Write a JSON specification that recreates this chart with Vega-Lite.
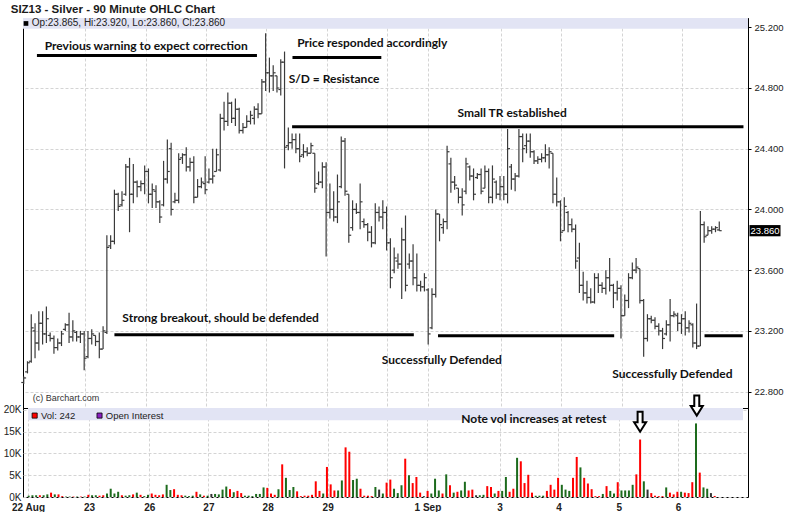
{
"$schema": "https://vega.github.io/schema/vega-lite/v6.json",
"background": "white",
"padding": {"left": 2, "top": 3, "right": 0, "bottom": 0},
"title": {"text": "SIZ13 - Silver - 90 Minute OHLC Chart", "anchor": "start", "font": "Liberation Sans", "fontSize": 11.5, "fontWeight": "bold", "color": "#1a1a1a", "offset": 2.5, "dx": 8},
"spacing": 0,
"bounds": "flush",
"resolve": {"scale": {"x": "independent", "y": "independent", "color": "independent"}},
"datasets": {"one": [{}], "bars": [
{"i":0,"o":22.86,"h":22.9,"l":22.85,"c":22.89,"v":300,"d":"up"},
{"i":1,"o":22.93,"h":23.0,"l":22.92,"c":22.99,"v":400,"d":"up"},
{"i":2,"o":23.0,"h":23.31,"l":22.99,"c":23.22,"v":400,"d":"up"},
{"i":3,"o":23.2,"h":23.25,"l":23.02,"c":23.12,"v":400,"d":"dn"},
{"i":4,"o":23.12,"h":23.33,"l":23.07,"c":23.25,"v":400,"d":"up"},
{"i":5,"o":23.25,"h":23.33,"l":23.11,"c":23.18,"v":600,"d":"up"},
{"i":6,"o":23.18,"h":23.36,"l":23.12,"c":23.28,"v":1000,"d":"dn"},
{"i":7,"o":23.17,"h":23.19,"l":23.13,"c":23.15,"v":600,"d":"up"},
{"i":8,"o":23.15,"h":23.17,"l":23.05,"c":23.09,"v":600,"d":"dn"},
{"i":9,"o":23.09,"h":23.15,"l":23.07,"c":23.12,"v":200,"d":"dn"},
{"i":10,"o":23.12,"h":23.2,"l":23.1,"c":23.18,"v":100,"d":"up"},
{"i":11,"o":23.21,"h":23.25,"l":23.2,"c":23.24,"v":100,"d":"up"},
{"i":12,"o":23.24,"h":23.32,"l":23.12,"c":23.16,"v":100,"d":"dn"},
{"i":13,"o":23.16,"h":23.27,"l":23.13,"c":23.2,"v":100,"d":"up"},
{"i":14,"o":23.19,"h":23.2,"l":23.13,"c":23.16,"v":100,"d":"dn"},
{"i":15,"o":23.16,"h":23.2,"l":23.12,"c":23.18,"v":100,"d":"up"},
{"i":16,"o":23.18,"h":23.2,"l":22.94,"c":23.02,"v":500,"d":"dn"},
{"i":17,"o":23.03,"h":23.2,"l":23.02,"c":23.15,"v":400,"d":"up"},
{"i":18,"o":23.15,"h":23.21,"l":23.11,"c":23.18,"v":400,"d":"up"},
{"i":19,"o":23.17,"h":23.17,"l":23.1,"c":23.13,"v":300,"d":"dn"},
{"i":20,"o":23.13,"h":23.19,"l":23.02,"c":23.08,"v":400,"d":"dn"},
{"i":21,"o":23.08,"h":23.23,"l":23.08,"c":23.2,"v":800,"d":"up"},
{"i":22,"o":23.19,"h":23.83,"l":23.18,"c":23.75,"v":1900,"d":"up"},
{"i":23,"o":23.76,"h":23.83,"l":23.74,"c":23.79,"v":800,"d":"up"},
{"i":24,"o":23.79,"h":24.13,"l":23.77,"c":24.1,"v":1200,"d":"up"},
{"i":25,"o":24.1,"h":24.11,"l":23.99,"c":24.02,"v":400,"d":"dn"},
{"i":26,"o":24.03,"h":24.12,"l":24.02,"c":24.06,"v":300,"d":"up"},
{"i":27,"o":24.1,"h":24.3,"l":24.09,"c":24.28,"v":400,"d":"up"},
{"i":28,"o":24.28,"h":24.34,"l":23.85,"c":24.1,"v":600,"d":"dn"},
{"i":29,"o":24.1,"h":24.3,"l":24.04,"c":24.18,"v":1000,"d":"up"},
{"i":30,"o":24.18,"h":24.19,"l":24.08,"c":24.15,"v":500,"d":"dn"},
{"i":31,"o":24.15,"h":24.19,"l":24.12,"c":24.17,"v":200,"d":"up"},
{"i":32,"o":24.17,"h":24.29,"l":24.1,"c":24.25,"v":500,"d":"up"},
{"i":33,"o":24.25,"h":24.27,"l":24.04,"c":24.1,"v":800,"d":"dn"},
{"i":34,"o":24.1,"h":24.17,"l":24.01,"c":24.13,"v":500,"d":"dn"},
{"i":35,"o":24.12,"h":24.16,"l":24.01,"c":24.05,"v":400,"d":"dn"},
{"i":36,"o":24.05,"h":24.06,"l":23.91,"c":23.95,"v":600,"d":"dn"},
{"i":37,"o":24.03,"h":24.32,"l":24.02,"c":24.2,"v":2800,"d":"up"},
{"i":38,"o":24.2,"h":24.46,"l":24.17,"c":24.25,"v":1600,"d":"up"},
{"i":39,"o":24.4,"h":24.44,"l":23.96,"c":24.0,"v":1800,"d":"dn"},
{"i":40,"o":24.05,"h":24.11,"l":24.04,"c":24.06,"v":500,"d":"dn"},
{"i":41,"o":24.06,"h":24.37,"l":24.04,"c":24.33,"v":400,"d":"dn"},
{"i":42,"o":24.34,"h":24.37,"l":24.3,"c":24.36,"v":300,"d":"up"},
{"i":43,"o":24.36,"h":24.41,"l":24.25,"c":24.28,"v":200,"d":"up"},
{"i":44,"o":24.28,"h":24.34,"l":24.25,"c":24.31,"v":300,"d":"up"},
{"i":45,"o":24.31,"h":24.35,"l":24.04,"c":24.08,"v":1200,"d":"dn"},
{"i":46,"o":24.08,"h":24.2,"l":24.08,"c":24.15,"v":600,"d":"up"},
{"i":47,"o":24.15,"h":24.21,"l":24.14,"c":24.18,"v":300,"d":"dn"},
{"i":48,"o":24.17,"h":24.35,"l":24.1,"c":24.13,"v":300,"d":"up"},
{"i":49,"o":24.18,"h":24.27,"l":24.17,"c":24.2,"v":700,"d":"fl"},
{"i":50,"o":24.2,"h":24.4,"l":24.17,"c":24.22,"v":700,"d":"up"},
{"i":51,"o":24.25,"h":24.4,"l":24.25,"c":24.36,"v":600,"d":"up"},
{"i":52,"o":24.26,"h":24.63,"l":24.25,"c":24.6,"v":1700,"d":"up"},
{"i":53,"o":24.6,"h":24.71,"l":24.52,"c":24.58,"v":2400,"d":"up"},
{"i":54,"o":24.58,"h":24.77,"l":24.55,"c":24.7,"v":1800,"d":"dn"},
{"i":55,"o":24.7,"h":24.71,"l":24.57,"c":24.6,"v":1100,"d":"up"},
{"i":56,"o":24.6,"h":24.73,"l":24.55,"c":24.66,"v":1400,"d":"dn"},
{"i":57,"o":24.66,"h":24.67,"l":24.5,"c":24.52,"v":900,"d":"dn"},
{"i":58,"o":24.52,"h":24.57,"l":24.5,"c":24.54,"v":300,"d":"up"},
{"i":59,"o":24.54,"h":24.62,"l":24.54,"c":24.58,"v":300,"d":"up"},
{"i":60,"o":24.58,"h":24.65,"l":24.56,"c":24.62,"v":200,"d":"up"},
{"i":61,"o":24.6,"h":24.68,"l":24.56,"c":24.66,"v":700,"d":"up"},
{"i":62,"o":24.66,"h":24.7,"l":24.6,"c":24.63,"v":700,"d":"up"},
{"i":63,"o":24.63,"h":24.86,"l":24.63,"c":24.84,"v":2200,"d":"up"},
{"i":64,"o":24.84,"h":25.16,"l":24.78,"c":24.9,"v":2100,"d":"dn"},
{"i":65,"o":24.9,"h":25.0,"l":24.77,"c":24.88,"v":800,"d":"dn"},
{"i":66,"o":24.88,"h":24.95,"l":24.78,"c":24.9,"v":500,"d":"dn"},
{"i":67,"o":24.88,"h":24.88,"l":24.77,"c":24.8,"v":1800,"d":"up"},
{"i":68,"o":24.79,"h":24.99,"l":24.75,"c":24.97,"v":7500,"d":"dn"},
{"i":69,"o":24.97,"h":25.04,"l":24.27,"c":24.41,"v":4400,"d":"up"},
{"i":70,"o":24.42,"h":24.54,"l":24.39,"c":24.44,"v":1600,"d":"up"},
{"i":71,"o":24.44,"h":24.5,"l":24.4,"c":24.46,"v":2300,"d":"up"},
{"i":72,"o":24.46,"h":24.5,"l":24.37,"c":24.4,"v":1300,"d":"dn"},
{"i":73,"o":24.4,"h":24.5,"l":24.31,"c":24.35,"v":200,"d":"dn"},
{"i":74,"o":24.36,"h":24.43,"l":24.34,"c":24.38,"v":300,"d":"dn"},
{"i":75,"o":24.38,"h":24.41,"l":24.35,"c":24.37,"v":300,"d":"dn"},
{"i":76,"o":24.37,"h":24.44,"l":24.37,"c":24.42,"v":500,"d":"dn"},
{"i":77,"o":24.37,"h":24.37,"l":24.11,"c":24.14,"v":3600,"d":"dn"},
{"i":78,"o":24.17,"h":24.25,"l":24.16,"c":24.18,"v":1400,"d":"dn"},
{"i":79,"o":24.18,"h":24.31,"l":24.14,"c":24.28,"v":800,"d":"up"},
{"i":80,"o":24.28,"h":24.31,"l":23.69,"c":23.98,"v":6900,"d":"dn"},
{"i":81,"o":23.98,"h":24.17,"l":23.94,"c":24.0,"v":2900,"d":"dn"},
{"i":82,"o":24.0,"h":24.12,"l":23.92,"c":23.95,"v":1500,"d":"dn"},
{"i":83,"o":23.95,"h":24.23,"l":23.91,"c":24.05,"v":1500,"d":"up"},
{"i":84,"o":24.15,"h":24.48,"l":24.14,"c":24.45,"v":3800,"d":"up"},
{"i":85,"o":24.45,"h":24.47,"l":24.09,"c":24.12,"v":11400,"d":"dn"},
{"i":86,"o":24.1,"h":24.1,"l":23.78,"c":23.83,"v":10400,"d":"dn"},
{"i":87,"o":23.88,"h":24.06,"l":23.86,"c":24.0,"v":3900,"d":"up"},
{"i":88,"o":24.0,"h":24.04,"l":23.97,"c":23.98,"v":4200,"d":"up"},
{"i":89,"o":23.98,"h":24.17,"l":23.87,"c":24.05,"v":1900,"d":"dn"},
{"i":90,"o":23.92,"h":23.94,"l":23.88,"c":23.9,"v":300,"d":"dn"},
{"i":91,"o":23.9,"h":23.91,"l":23.79,"c":23.85,"v":300,"d":"dn"},
{"i":92,"o":23.85,"h":23.89,"l":23.75,"c":23.78,"v":200,"d":"dn"},
{"i":93,"o":23.78,"h":24.04,"l":23.77,"c":23.98,"v":2300,"d":"up"},
{"i":94,"o":23.98,"h":24.02,"l":23.92,"c":23.95,"v":1700,"d":"fl"},
{"i":95,"o":23.95,"h":24.06,"l":23.87,"c":23.98,"v":800,"d":"up"},
{"i":96,"o":23.98,"h":24.02,"l":23.73,"c":23.78,"v":3300,"d":"dn"},
{"i":97,"o":23.78,"h":23.81,"l":23.48,"c":23.55,"v":4000,"d":"dn"},
{"i":98,"o":23.6,"h":23.75,"l":23.58,"c":23.68,"v":1900,"d":"up"},
{"i":99,"o":23.66,"h":23.71,"l":23.61,"c":23.64,"v":900,"d":"up"},
{"i":100,"o":23.64,"h":23.88,"l":23.41,"c":23.8,"v":2700,"d":"up"},
{"i":101,"o":23.8,"h":23.96,"l":23.46,"c":23.5,"v":8800,"d":"dn"},
{"i":102,"o":23.64,"h":23.71,"l":23.61,"c":23.66,"v":5000,"d":"up"},
{"i":103,"o":23.66,"h":23.77,"l":23.5,"c":23.55,"v":3200,"d":"dn"},
{"i":104,"o":23.55,"h":23.71,"l":23.46,"c":23.5,"v":4600,"d":"dn"},
{"i":105,"o":23.5,"h":23.53,"l":23.46,"c":23.49,"v":1000,"d":"dn"},
{"i":106,"o":23.49,"h":23.58,"l":23.46,"c":23.55,"v":200,"d":"fl"},
{"i":107,"o":23.47,"h":23.48,"l":23.11,"c":23.18,"v":1400,"d":"dn"},
{"i":108,"o":23.22,"h":23.48,"l":23.21,"c":23.44,"v":800,"d":"up"},
{"i":109,"o":23.44,"h":24.0,"l":23.42,"c":23.97,"v":4200,"d":"up"},
{"i":110,"o":23.97,"h":23.97,"l":23.79,"c":23.9,"v":1500,"d":"up"},
{"i":111,"o":23.88,"h":23.94,"l":23.84,"c":23.92,"v":800,"d":"dn"},
{"i":112,"o":23.92,"h":24.42,"l":23.87,"c":24.38,"v":5200,"d":"up"},
{"i":113,"o":24.3,"h":24.34,"l":24.11,"c":24.18,"v":2700,"d":"dn"},
{"i":114,"o":24.18,"h":24.22,"l":24.13,"c":24.16,"v":1000,"d":"up"},
{"i":115,"o":24.14,"h":24.14,"l":24.04,"c":24.08,"v":1200,"d":"dn"},
{"i":116,"o":24.08,"h":24.14,"l":23.96,"c":24.03,"v":1500,"d":"up"},
{"i":117,"o":24.12,"h":24.34,"l":24.1,"c":24.3,"v":3500,"d":"up"},
{"i":118,"o":24.28,"h":24.29,"l":24.19,"c":24.22,"v":1500,"d":"dn"},
{"i":119,"o":24.22,"h":24.27,"l":24.06,"c":24.1,"v":1700,"d":"dn"},
{"i":120,"o":24.21,"h":24.24,"l":24.2,"c":24.23,"v":400,"d":"fl"},
{"i":121,"o":24.23,"h":24.27,"l":24.1,"c":24.12,"v":400,"d":"up"},
{"i":122,"o":24.14,"h":24.29,"l":24.14,"c":24.25,"v":500,"d":"up"},
{"i":123,"o":24.25,"h":24.27,"l":24.04,"c":24.08,"v":2500,"d":"dn"},
{"i":124,"o":24.08,"h":24.29,"l":24.04,"c":24.2,"v":2300,"d":"dn"},
{"i":125,"o":24.18,"h":24.19,"l":24.07,"c":24.1,"v":800,"d":"up"},
{"i":126,"o":24.1,"h":24.22,"l":24.06,"c":24.15,"v":1400,"d":"dn"},
{"i":127,"o":24.15,"h":24.22,"l":24.06,"c":24.1,"v":1400,"d":"up"},
{"i":128,"o":24.1,"h":24.53,"l":24.04,"c":24.4,"v":4600,"d":"up"},
{"i":129,"o":24.28,"h":24.3,"l":24.13,"c":24.2,"v":1200,"d":"dn"},
{"i":130,"o":24.2,"h":24.24,"l":24.12,"c":24.22,"v":1900,"d":"dn"},
{"i":131,"o":24.22,"h":24.53,"l":24.21,"c":24.48,"v":9000,"d":"up"},
{"i":132,"o":24.48,"h":24.5,"l":24.31,"c":24.4,"v":8200,"d":"dn"},
{"i":133,"o":24.42,"h":24.5,"l":24.37,"c":24.45,"v":3200,"d":"dn"},
{"i":134,"o":24.45,"h":24.5,"l":24.34,"c":24.38,"v":5100,"d":"dn"},
{"i":135,"o":24.38,"h":24.39,"l":24.3,"c":24.32,"v":1000,"d":"dn"},
{"i":136,"o":24.32,"h":24.35,"l":24.3,"c":24.33,"v":300,"d":"up"},
{"i":137,"o":24.33,"h":24.37,"l":24.31,"c":24.34,"v":300,"d":"up"},
{"i":138,"o":24.34,"h":24.43,"l":24.31,"c":24.36,"v":300,"d":"up"},
{"i":139,"o":24.36,"h":24.41,"l":24.27,"c":24.38,"v":1400,"d":"dn"},
{"i":140,"o":24.37,"h":24.37,"l":24.04,"c":24.1,"v":2800,"d":"dn"},
{"i":141,"o":24.1,"h":24.21,"l":24.02,"c":24.05,"v":1700,"d":"dn"},
{"i":142,"o":24.05,"h":24.06,"l":23.79,"c":23.85,"v":4400,"d":"dn"},
{"i":143,"o":23.86,"h":24.08,"l":23.86,"c":24.02,"v":2800,"d":"up"},
{"i":144,"o":23.98,"h":23.99,"l":23.85,"c":23.9,"v":1700,"d":"up"},
{"i":145,"o":23.9,"h":23.94,"l":23.85,"c":23.87,"v":1400,"d":"up"},
{"i":146,"o":23.87,"h":23.9,"l":23.61,"c":23.66,"v":4400,"d":"dn"},
{"i":147,"o":23.68,"h":23.78,"l":23.45,"c":23.5,"v":9200,"d":"dn"},
{"i":148,"o":23.5,"h":23.59,"l":23.4,"c":23.45,"v":6800,"d":"up"},
{"i":149,"o":23.45,"h":23.53,"l":23.38,"c":23.42,"v":4400,"d":"dn"},
{"i":150,"o":23.42,"h":23.48,"l":23.38,"c":23.39,"v":3100,"d":"dn"},
{"i":151,"o":23.39,"h":23.58,"l":23.38,"c":23.55,"v":1800,"d":"dn"},
{"i":152,"o":23.55,"h":23.58,"l":23.45,"c":23.5,"v":200,"d":"dn"},
{"i":153,"o":23.5,"h":23.52,"l":23.45,"c":23.48,"v":200,"d":"dn"},
{"i":154,"o":23.48,"h":23.6,"l":23.44,"c":23.55,"v":700,"d":"up"},
{"i":155,"o":23.55,"h":23.68,"l":23.46,"c":23.5,"v":2500,"d":"dn"},
{"i":156,"o":23.5,"h":23.51,"l":23.35,"c":23.45,"v":1400,"d":"up"},
{"i":157,"o":23.45,"h":23.53,"l":23.4,"c":23.48,"v":800,"d":"up"},
{"i":158,"o":23.48,"h":23.5,"l":23.15,"c":23.3,"v":3400,"d":"dn"},
{"i":159,"o":23.3,"h":23.44,"l":23.3,"c":23.4,"v":1500,"d":"up"},
{"i":160,"o":23.4,"h":23.58,"l":23.35,"c":23.55,"v":1500,"d":"up"},
{"i":161,"o":23.55,"h":23.65,"l":23.54,"c":23.6,"v":1500,"d":"up"},
{"i":162,"o":23.6,"h":23.68,"l":23.58,"c":23.62,"v":2800,"d":"up"},
{"i":163,"o":23.61,"h":23.61,"l":23.38,"c":23.4,"v":5200,"d":"dn"},
{"i":164,"o":23.4,"h":23.41,"l":23.03,"c":23.15,"v":13200,"d":"dn"},
{"i":165,"o":23.15,"h":23.31,"l":23.13,"c":23.28,"v":3600,"d":"up"},
{"i":166,"o":23.28,"h":23.3,"l":23.25,"c":23.27,"v":1700,"d":"fl"},
{"i":167,"o":23.27,"h":23.29,"l":23.21,"c":23.23,"v":900,"d":"dn"},
{"i":168,"o":23.23,"h":23.25,"l":23.17,"c":23.2,"v":300,"d":"dn"},
{"i":169,"o":23.2,"h":23.22,"l":23.08,"c":23.15,"v":200,"d":"dn"},
{"i":170,"o":23.18,"h":23.27,"l":23.17,"c":23.24,"v":200,"d":"dn"},
{"i":171,"o":23.24,"h":23.41,"l":23.13,"c":23.3,"v":2200,"d":"up"},
{"i":172,"o":23.3,"h":23.33,"l":23.29,"c":23.31,"v":1000,"d":"dn"},
{"i":173,"o":23.3,"h":23.32,"l":23.2,"c":23.25,"v":600,"d":"dn"},
{"i":174,"o":23.25,"h":23.31,"l":23.18,"c":23.28,"v":1200,"d":"dn"},
{"i":175,"o":23.28,"h":23.33,"l":23.17,"c":23.22,"v":1200,"d":"up"},
{"i":176,"o":23.22,"h":23.27,"l":23.19,"c":23.25,"v":1000,"d":"dn"},
{"i":177,"o":23.24,"h":23.25,"l":23.09,"c":23.12,"v":900,"d":"dn"},
{"i":178,"o":23.12,"h":23.38,"l":23.08,"c":23.1,"v":3400,"d":"dn"},
{"i":179,"o":23.1,"h":23.99,"l":23.1,"c":23.9,"v":16900,"d":"up"},
{"i":180,"o":23.9,"h":23.92,"l":23.78,"c":23.82,"v":5600,"d":"dn"},
{"i":181,"o":23.83,"h":23.89,"l":23.83,"c":23.86,"v":2200,"d":"up"},
{"i":182,"o":23.86,"h":23.89,"l":23.84,"c":23.87,"v":1900,"d":"up"},
{"i":183,"o":23.87,"h":23.89,"l":23.85,"c":23.88,"v":900,"d":"fl"},
{"i":184,"o":23.865,"h":23.92,"l":23.86,"c":23.86,"v":242,"d":"dn"}
]},
"vconcat": [
{
"width": 725, "height": 390,
"layer": [
{"data": {"name": "one"},
 "mark": {"type": "rect", "color": "#e2e4f4"},
 "encoding": {
  "x": {"datum": -0.185, "type": "quantitative", "title": null, "scale": {"domain": [-0.185, 191.6], "nice": false, "zero": false},
        "axis": {"values": [16.2, 32.35, 48.2, 64.1, 80.2, 96.1, 106.96, 126.3, 142.1, 158.3, 174.2], "grid": true, "labels": false, "ticks": false, "domain": false, "title": null}},
  "x2": {"datum": 191.6},
  "y": {"datum": 25.261, "type": "quantitative", "title": null, "scale": {"domain": [22.692, 25.261], "nice": false, "zero": false},
        "axis": {"orient": "right", "values": [22.8, 23.0, 23.2, 23.4, 23.6, 23.8, 24.0, 24.2, 24.4, 24.6, 24.8, 25.0, 25.2], "labelExpr": "datum.value == 23.8 ? '' : format(datum.value, '.3f')", "labelOverlap": false, "grid": true, "tickSize": 3, "labelPadding": 3, "labelFontSize": 9.5, "domain": true, "title": null}},
  "y2": {"datum": 25.19}}},
{"data": {"name": "bars"},
 "mark": {"type": "rule", "color": "#3a3a3a", "strokeWidth": 1.2},
 "encoding": {
  "x": {"field": "i", "type": "quantitative", "title": null,
        "axis": {"values": [16.2, 32.35, 48.2, 64.1, 80.2, 96.1, 106.96, 126.3, 142.1, 158.3, 174.2], "grid": true, "labels": false, "ticks": false, "domain": false, "title": null}},
  "y": {"field": "l", "type": "quantitative", "title": null,
        "axis": {"orient": "right", "values": [22.8, 23.0, 23.2, 23.4, 23.6, 23.8, 24.0, 24.2, 24.4, 24.6, 24.8, 25.0, 25.2], "labelExpr": "datum.value == 23.8 ? '' : format(datum.value, '.3f')", "labelOverlap": false, "grid": true, "tickSize": 3, "labelPadding": 3, "labelFontSize": 9.5, "domain": true, "title": null}},
  "y2": {"field": "h"}}},
{"data": {"name": "bars"},
 "mark": {"type": "tick", "orient": "horizontal", "size": 2.4, "thickness": 1.2, "xOffset": -1.2, "color": "#3a3a3a", "opacity": 1},
 "encoding": {"x": {"field": "i", "type": "quantitative", "title": null}, "y": {"field": "o", "type": "quantitative", "title": null}}},
{"data": {"name": "bars"},
 "mark": {"type": "tick", "orient": "horizontal", "size": 2.4, "thickness": 1.2, "xOffset": 1.2, "color": "#3a3a3a", "opacity": 1},
 "encoding": {"x": {"field": "i", "type": "quantitative", "title": null}, "y": {"field": "c", "type": "quantitative", "title": null}}},
{"data": {"name": "one"},
 "mark": {"type": "square", "color": "#000", "size": 22, "opacity": 1},
 "encoding": {"x": {"datum": 0.6, "type": "quantitative", "title": null}, "y": {"datum": 25.225, "type": "quantitative", "title": null}}},
{"data": {"name": "one"},
 "mark": {"type": "text", "text": "Op:23.865, Hi:23.920, Lo:23.860, Cl:23.860", "align": "left", "baseline": "middle", "font": "Liberation Sans", "fontSize": 10, "color": "#222"},
 "encoding": {"x": {"datum": 2.1, "type": "quantitative", "title": null}, "y": {"datum": 25.225, "type": "quantitative", "title": null}}},
{"data": {"values": [
  {"a": 3.5, "b": 61.7, "p": 25.014},
  {"a": 71.1, "b": 94.6, "p": 25.0},
  {"a": 71.0, "b": 190.4, "p": 24.545},
  {"a": 24.0, "b": 103.2, "p": 23.174},
  {"a": 109.6, "b": 156.2, "p": 23.168},
  {"a": 180.1, "b": 190.2, "p": 23.168}]},
 "mark": {"type": "rule", "color": "#000", "strokeWidth": 3},
 "encoding": {"x": {"field": "a", "type": "quantitative", "title": null}, "x2": {"field": "b"}, "y": {"field": "p", "type": "quantitative", "title": null}}},
{"data": {"values": [
  {"t": "Previous warning to expect correction", "a": 32.4, "p": 25.077},
  {"t": "Price responded accordingly", "a": 92.2, "p": 25.098},
  {"t": "S/D = Resistance", "a": 82.1, "p": 24.859},
  {"t": "Small TR established", "a": 129.2, "p": 24.632},
  {"t": "Strong breakout, should be defended", "a": 52.1, "p": 23.287},
  {"t": "Successfully Defended", "a": 110.6, "p": 23.008},
  {"t": "Successfully Defended", "a": 171.6, "p": 22.916}]},
 "mark": {"type": "text", "align": "center", "baseline": "middle", "font": "Lato", "fontWeight": "bold", "fontSize": 12, "color": "#111"},
 "encoding": {"x": {"field": "a", "type": "quantitative", "title": null}, "y": {"field": "p", "type": "quantitative", "title": null}, "text": {"field": "t"}}},
{"data": {"name": "one"},
 "mark": {"type": "text", "text": "(c) Barchart.com", "align": "left", "baseline": "middle", "font": "Liberation Sans", "fontSize": 9, "color": "#333"},
 "encoding": {"x": {"datum": 2.4, "type": "quantitative", "title": null}, "y": {"datum": 22.76, "type": "quantitative", "title": null}}},
{"data": {"name": "one"},
 "mark": {"type": "rect", "color": "#000"},
 "encoding": {"x": {"datum": 192.0, "type": "quantitative", "title": null}, "x2": {"datum": 200.2}, "y": {"datum": 23.823, "type": "quantitative", "title": null}, "y2": {"datum": 23.897}}},
{"data": {"name": "one"},
 "mark": {"type": "text", "text": "23.860", "align": "center", "baseline": "middle", "font": "Liberation Sans", "fontSize": 9.5, "color": "#fff"},
 "encoding": {"x": {"datum": 196.1, "type": "quantitative", "title": null}, "y": {"datum": 23.86, "type": "quantitative", "title": null}}}
]
},
{
"width": 725, "height": 89,
"layer": [
{"data": {"name": "one"},
 "mark": {"type": "rect", "color": "#e2e4f4"},
 "encoding": {
  "x": {"datum": -0.185, "type": "quantitative", "title": null, "scale": {"domain": [-0.185, 191.6], "nice": false, "zero": false},
        "axis": {"values": [-0.185, 16.2, 32.35, 48.2, 64.1, 80.2, 96.1, 106.96, 126.3, 142.1, 158.3, 174.2],
                 "labelExpr": "datum.value < 1 ? '22 Aug' : datum.value < 20 ? '23' : datum.value < 40 ? '26' : datum.value < 55 ? '27' : datum.value < 70 ? '28' : datum.value < 90 ? '29' : datum.value < 100 ? '' : datum.value < 110 ? '1 Sep' : datum.value < 130 ? '3' : datum.value < 150 ? '4' : datum.value < 165 ? '5' : '6'",
                 "grid": true, "ticks": false, "domain": false, "labelFlush": false, "labelOverlap": false, "labelFontWeight": "bold", "labelFontSize": 10, "labelPadding": 5, "labelColor": "#222", "title": null}},
  "x2": {"datum": 191.6},
  "y": {"datum": 20440, "type": "quantitative", "title": null, "scale": {"domain": [0, 20440], "nice": false, "zero": false},
        "axis": {"orient": "left", "values": [0, 5000, 10000, 15000, 20000], "tickCount": 5, "labelExpr": "(datum.value / 1000) + 'K'", "labelOverlap": false, "grid": true, "ticks": false, "domain": false, "labelPadding": 2, "labelFontSize": 10, "title": null}},
  "y2": {"datum": 17600}}},
{"data": {"name": "bars"},
 "mark": {"type": "bar", "size": 2},
 "encoding": {
  "x": {"field": "i", "type": "quantitative", "title": null,
        "axis": {"values": [-0.185, 16.2, 32.35, 48.2, 64.1, 80.2, 96.1, 106.96, 126.3, 142.1, 158.3, 174.2],
                 "labelExpr": "datum.value < 1 ? '22 Aug' : datum.value < 20 ? '23' : datum.value < 40 ? '26' : datum.value < 55 ? '27' : datum.value < 70 ? '28' : datum.value < 90 ? '29' : datum.value < 100 ? '' : datum.value < 110 ? '1 Sep' : datum.value < 130 ? '3' : datum.value < 150 ? '4' : datum.value < 165 ? '5' : '6'",
                 "grid": true, "ticks": false, "domain": false, "labelFlush": false, "labelOverlap": false, "labelFontWeight": "bold", "labelFontSize": 10, "labelPadding": 5, "labelColor": "#222", "title": null}},
  "y": {"field": "v", "type": "quantitative", "title": null,
        "axis": {"orient": "left", "values": [0, 5000, 10000, 15000, 20000], "tickCount": 5, "labelExpr": "(datum.value / 1000) + 'K'", "labelOverlap": false, "grid": true, "ticks": false, "domain": false, "labelPadding": 2, "labelFontSize": 10, "title": null}},
  "color": {"field": "d", "type": "nominal", "legend": null, "scale": {"domain": ["up", "dn", "fl"], "range": ["#1d6b1d", "#ff0000", "#333333"]}}}},
{"data": {"name": "one"},
 "mark": {"type": "square", "size": 26, "fill": "#ff0000", "stroke": "#000", "strokeWidth": 0.8, "opacity": 1},
 "encoding": {"x": {"datum": 1.6, "type": "quantitative", "title": null}, "y": {"datum": 18700, "type": "quantitative", "title": null}}},
{"data": {"name": "one"},
 "mark": {"type": "text", "text": "Vol: 242", "align": "left", "baseline": "middle", "font": "Liberation Sans", "fontSize": 9.5, "color": "#222"},
 "encoding": {"x": {"datum": 3.3, "type": "quantitative", "title": null}, "y": {"datum": 18700, "type": "quantitative", "title": null}}},
{"data": {"name": "one"},
 "mark": {"type": "square", "size": 26, "fill": "#8a1fc0", "stroke": "#000", "strokeWidth": 0.8, "opacity": 1},
 "encoding": {"x": {"datum": 19.0, "type": "quantitative", "title": null}, "y": {"datum": 18700, "type": "quantitative", "title": null}}},
{"data": {"name": "one"},
 "mark": {"type": "text", "text": "Open Interest", "align": "left", "baseline": "middle", "font": "Liberation Sans", "fontSize": 9.5, "color": "#222"},
 "encoding": {"x": {"datum": 20.7, "type": "quantitative", "title": null}, "y": {"datum": 18700, "type": "quantitative", "title": null}}},
{"data": {"name": "one"},
 "mark": {"type": "text", "text": "Note vol increases at retest", "align": "center", "baseline": "middle", "font": "Lato", "fontWeight": "bold", "fontSize": 12, "color": "#111"},
 "encoding": {"x": {"datum": 135.5, "type": "quantitative", "title": null}, "y": {"datum": 17900, "type": "quantitative", "title": null}}},
{"data": {"values": [{"a": 164.0, "p": 17300}, {"a": 179.2, "p": 21000}]},
 "mark": {"type": "point", "shape": "M -0.25 -1 L 0.25 -1 L 0.25 0.05 L 0.6 0.05 L 0 1 L -0.6 0.05 L -0.25 0.05 Z", "size": 400, "filled": true, "fill": "#fff", "stroke": "#000", "strokeWidth": 2, "opacity": 1},
 "encoding": {"x": {"field": "a", "type": "quantitative", "title": null}, "y": {"field": "p", "type": "quantitative", "title": null}}}
]
}
],
"config": {
 "view": {"stroke": "#000", "strokeWidth": 1},
 "axis": {"labelFont": "Liberation Sans", "labelColor": "#222", "gridColor": "#d4d4d4", "gridDash": [3, 2], "domainColor": "#000", "tickColor": "#000"}
}
}
